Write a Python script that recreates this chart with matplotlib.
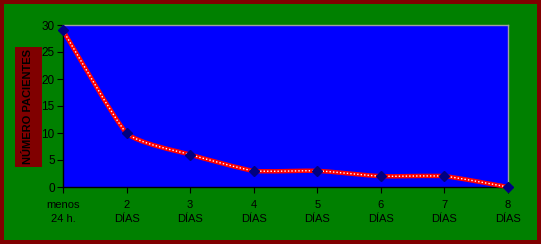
import numpy as np
import matplotlib
matplotlib.use('Agg')
import matplotlib.pyplot as plt
from matplotlib.patches import Rectangle, PathPatch
from matplotlib.path import Path

plt.rcParams['font.family'] = ['Liberation Sans', 'DejaVu Sans']

categorias = ['menos\n24 h.', '2\nDÍAS', '3\nDÍAS', '4\nDÍAS', '5\nDÍAS', '6\nDÍAS', '7\nDÍAS', '8\nDÍAS']
pacientes = [29, 10, 6, 3, 3, 2, 2, 0]

W, H = 541, 244
fig = plt.figure(figsize=(W / 100, H / 100), dpi=100)
fig.patch.set_facecolor('#800000')
fig.add_artist(Rectangle((4 / W, 4 / H), (W - 8) / W, (H - 8) / H,
                         transform=fig.transFigure, facecolor='#008000', edgecolor='none', zorder=0))

ax = fig.add_axes([63 / W, 57 / H, 445 / W, 162 / H])
ax.set_facecolor('#0000FF')

x = np.arange(len(pacientes))
y = np.array(pacientes, dtype=float)

# linea suavizada (estilo Excel), poca tension
verts = [(x[0], y[0])]
codes = [Path.MOVETO]
for i in range(len(x) - 1):
    p0 = np.array([x[max(i - 1, 0)], y[max(i - 1, 0)]])
    p1 = np.array([x[i], y[i]])
    p2 = np.array([x[i + 1], y[i + 1]])
    p3 = np.array([x[min(i + 2, len(x) - 1)], y[min(i + 2, len(x) - 1)]])
    c1 = p1 + (p2 - p0) / 12
    c2 = p2 - (p3 - p1) / 12
    verts += [tuple(c1), tuple(c2), tuple(p2)]
    codes += [Path.CURVE4] * 3
camino = Path(verts, codes)
ax.add_patch(PathPatch(camino, facecolor='none', edgecolor='red', lw=3.2, zorder=3, clip_on=False))
ax.add_patch(PathPatch(camino, facecolor='none', edgecolor='white', lw=1.0, linestyle=(0, (1, 1.5)),
                       zorder=4, clip_on=False))
ax.plot(x, y, linestyle='none', marker='D', markersize=5, color='#000080', zorder=5, clip_on=False)

ax.set_xlim(0, 7)
ax.set_ylim(0, 30)
ax.set_yticks(range(0, 31, 5))
ax.set_xticks(x)
ax.set_xticklabels(categorias, fontsize=8, linespacing=1.6)
ax.tick_params(axis='y', labelsize=8.5, length=4, direction='out', color='black', pad=2)
ax.tick_params(axis='x', length=4, direction='out', color='black', pad=5)

ax.spines['left'].set_color('black')
ax.spines['bottom'].set_color('black')
ax.spines['top'].set_color('#A0A0A0')
ax.spines['right'].set_color('#A0A0A0')
for s in ax.spines.values():
    s.set_linewidth(1)

fig.add_artist(Rectangle((15 / W, 77 / H), 27 / W, 120 / H,
                         transform=fig.transFigure, facecolor='#800000', edgecolor='none', zorder=1))
fig.text(28.5 / W, 137 / H, 'NÚMERO PACIENTES', rotation=90, ha='center', va='center',
         fontsize=8, fontweight='bold', color='black')

fig.savefig('out.png', dpi=100, facecolor=fig.get_facecolor())
